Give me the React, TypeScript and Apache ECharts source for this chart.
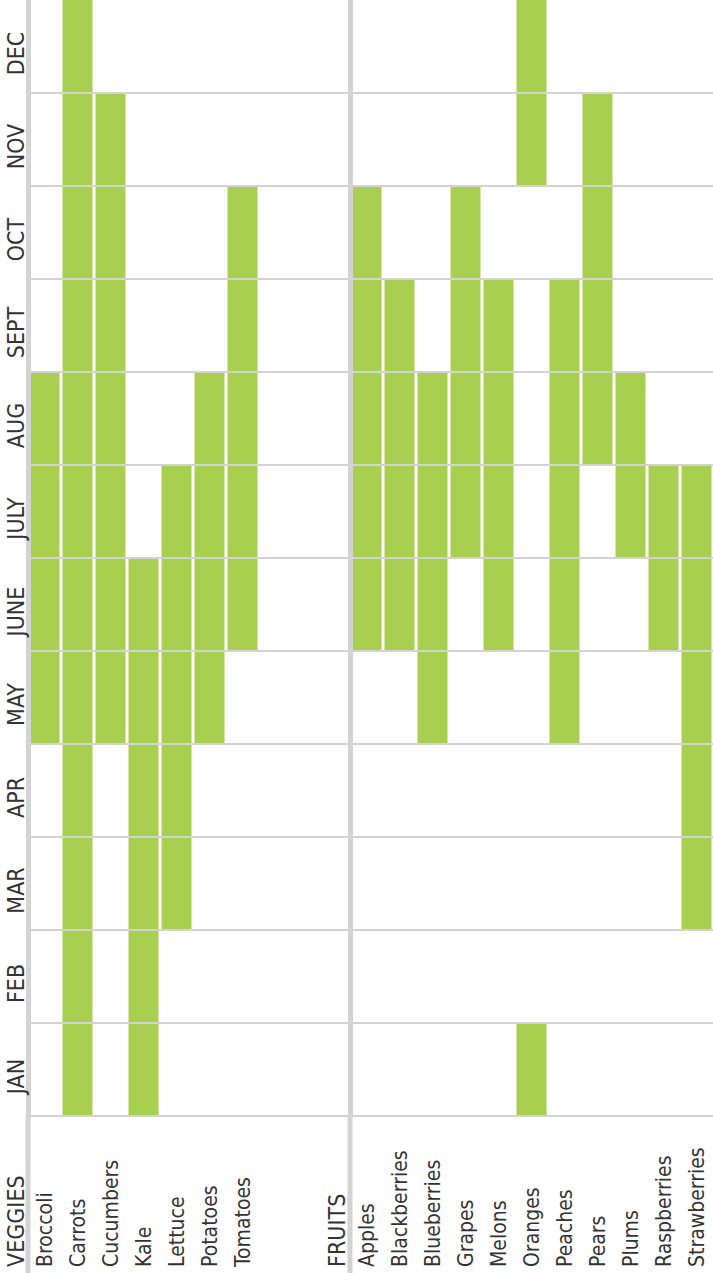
import React, { useEffect, useRef } from "react";
import * as echarts from "echarts";

const months = ["JAN", "FEB", "MAR", "APR", "MAY", "JUNE", "JULY", "AUG", "SEPT", "OCT", "NOV", "DEC"];

const veggies = ["Broccoli", "Carrots", "Cucumbers", "Kale", "Lettuce", "Potatoes", "Tomatoes"];
const veggieStart = ["MAY", "JAN", "MAY", "JAN", "MAR", "MAY", "JUNE"];
const veggieEnd = ["AUG", "DEC", "NOV", "JUNE", "JULY", "AUG", "OCT"];

const fruits = ["Apples", "Blackberries", "Blueberries", "Grapes", "Melons", "Oranges", "Peaches", "Pears", "Plums", "Raspberries", "Strawberries"];
const fruitStart = ["JUNE", "JUNE", "MAY", "JULY", "JUNE", "NOV", "MAY", "AUG", "JULY", "JUNE", "MAR"];
const fruitEnd = ["OCT", "SEPT", "AUG", "OCT", "SEPT", "JAN", "SEPT", "NOV", "AUG", "JULY", "JULY"];

const groupLabels = ["VEGGIES", "FRUITS"];

const GREEN = "#a8cf50";
const GRID = "#d3d3d3";
const TEXT = "#333333";
const FONT = '"Liberation Sans Narrow", "DejaVu Sans Condensed", "Roboto Condensed", sans-serif';

function segments(starts: string[], ends: string[]) {
  const out: number[][] = [];
  starts.forEach((st, i) => {
    const s = months.indexOf(st);
    const e = months.indexOf(ends[i]);
    if (s <= e) out.push([i, s, e]);
    else {
      out.push([i, s, months.length - 1]);
      out.push([i, 0, e]);
    }
  });
  return out;
}

const renderItem = (params: any, api: any) => {
  const x = api.value(0);
  const s = api.value(1);
  const e = api.value(2);
  const bottom = api.coord([x, s]);
  const top = api.coord([x, e]);
  const size = api.size([1, 1]);
  const w = size[0] - 3;
  return {
    type: "rect",
    shape: { x: bottom[0] - w / 2, y: top[1] - size[1] / 2, width: w, height: bottom[1] - top[1] + size[1] },
    style: { fill: GREEN },
  };
};

export default function App() {
  const ref = useRef<HTMLDivElement>(null);
  useEffect(() => {
    if (!ref.current) return;
    const chart = echarts.init(ref.current, null, { renderer: "svg" });
    const xLabel = {
      interval: 0,
      rotate: 90,
      align: "left",
      verticalAlign: "middle",
      margin: 151,
      padding: [6, 0, 0, 0],
      fontSize: 21,
      fontFamily: FONT,
      color: TEXT,
    };
    const splitLine = { show: true, showMaxLine: false, lineStyle: { color: GRID, width: 2 } };
    const option: any = {
      animation: false,
      grid: [
        { left: 28, top: 0, width: 330, height: 1116 },
        { left: 350, top: 0, width: 363, height: 1116 },
      ],
      xAxis: [
        {
          gridIndex: 0,
          type: "category",
          data: [...veggies, "", "", ""],
          axisLine: { show: false },
          axisTick: { show: false },
          axisLabel: xLabel,
        },
        {
          gridIndex: 1,
          type: "category",
          data: fruits,
          axisLine: { show: false },
          axisTick: { show: false },
          axisLabel: xLabel,
        },
      ],
      yAxis: [
        {
          gridIndex: 0,
          type: "category",
          data: months,
          z: 5,
          axisLine: { show: true, lineStyle: { color: GRID, width: 5 } },
          axisTick: { show: false },
          axisLabel: {
            interval: 0,
            rotate: 90,
            align: "center",
            verticalAlign: "middle",
            margin: 12,
            padding: [0, 14, 0, 0],
            fontSize: 23,
            fontFamily: FONT,
            color: TEXT,
          },
          splitLine,
        },
        {
          gridIndex: 1,
          type: "category",
          data: months,
          z: 5,
          axisLine: { show: true, lineStyle: { color: GRID, width: 5 } },
          axisTick: { show: false },
          axisLabel: { show: false },
          splitLine,
        },
      ],
      series: [
        {
          type: "custom",
          xAxisIndex: 0,
          yAxisIndex: 0,
          renderItem,
          encode: { x: 0, y: [1, 2] },
          data: segments(veggieStart, veggieEnd),
        },
        {
          type: "custom",
          xAxisIndex: 1,
          yAxisIndex: 1,
          renderItem,
          encode: { x: 0, y: [1, 2] },
          data: segments(fruitStart, fruitEnd),
        },
      ],
      graphic: [
        { type: "rect", left: 25.5, top: 1116, shape: { width: 5, height: 157 }, style: { fill: GRID } },
        { type: "rect", left: 347.5, top: 1116, shape: { width: 5, height: 157 }, style: { fill: GRID } },
        {
          type: "text",
          x: 16,
          y: 1267,
          rotation: Math.PI / 2,
          style: { text: groupLabels[0], textAlign: "left", textVerticalAlign: "middle", fontSize: 23, fontFamily: FONT, fill: TEXT },
        },
        {
          type: "text",
          x: 337,
          y: 1267,
          rotation: Math.PI / 2,
          style: { text: groupLabels[1], textAlign: "left", textVerticalAlign: "middle", fontSize: 23, fontFamily: FONT, fill: TEXT },
        },
      ],
    };
    chart.setOption(option);
    return () => chart.dispose();
  }, []);
  return <div ref={ref} style={{ position: "absolute", left: 0, top: 0, width: 713, height: 1273 }} />;
}
